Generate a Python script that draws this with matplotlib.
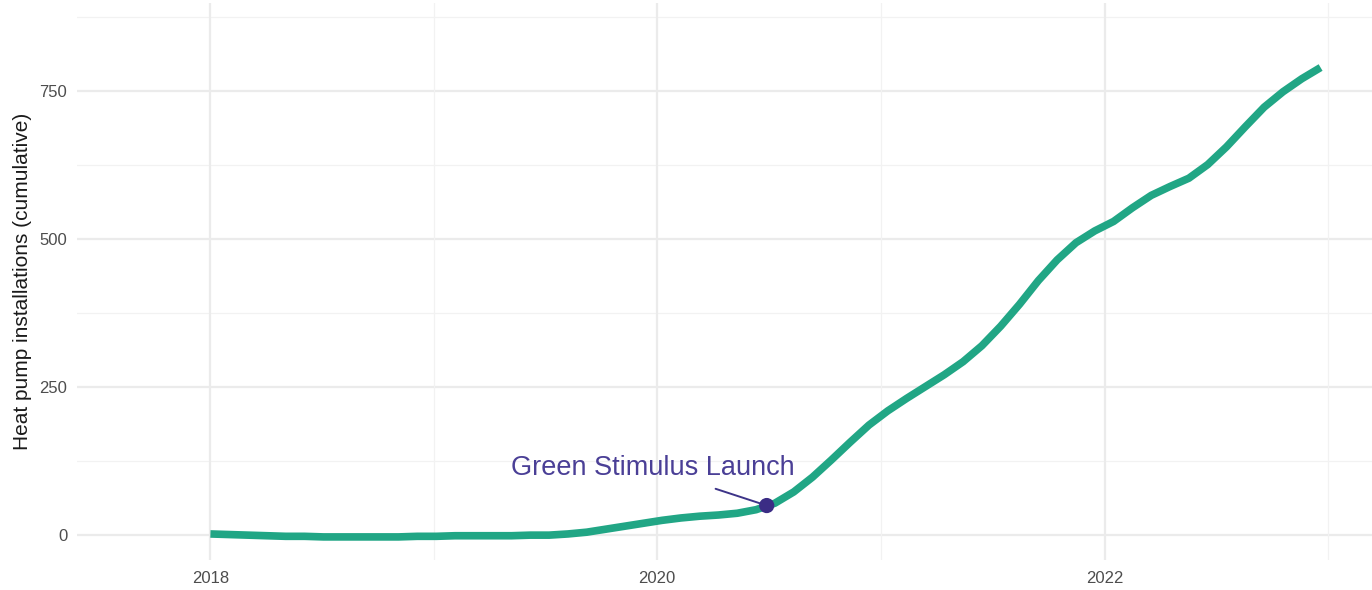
import matplotlib
matplotlib.use("Agg")
import matplotlib.pyplot as plt
import pandas as pd

plt.rcParams['font.family'] = ['Liberation Sans', 'DejaVu Sans']

# ---- data ----
dates = pd.date_range(start="2018-01-01", end="2022-12-20", periods=60)
installs = [2, 1, 0, -1, -2, -2, -3, -3, -3, -3,
            -3, -2, -2, -1, -1, -1, -1, 0, 0, 2,
            5, 10, 15, 20, 25, 29, 32, 34, 37, 43,
            54, 73, 98, 127, 157, 186, 210, 231, 251, 271,
            293, 320, 353, 390, 430, 465, 494, 514, 530, 553,
            574, 589, 603, 626, 656, 690, 723, 749, 771, 790]
event_date = pd.Timestamp("2020-06-28")
event_value = 50
event_label = "Green Stimulus Launch"
text_date = pd.Timestamp("2019-12-25")
text_value = 113
y_ticks = [0, 250, 500, 750]
y_minor = [125, 375, 625, 875]
x_ticks = [pd.Timestamp(f"{y}-01-01") for y in (2018, 2020, 2022)]
x_minor = [pd.Timestamp(f"{y}-01-01") for y in (2019, 2021, 2023)]
x_ticklabels = ["2018", "2020", "2022"]

fig = plt.figure(figsize=(13.72, 5.90), dpi=100)
ax = fig.add_axes([77/1372, 1 - 560/590, 1 - 77/1372, (560 - 3)/590])

ax.set_xlim(pd.Timestamp("2017-05-28"), pd.Timestamp("2023-03-14"))
ax.set_ylim(-42, 899)

# grid
for v in y_ticks:
    ax.axhline(v, color="#ebebeb", lw=1.6, zorder=0)
for v in y_minor:
    ax.axhline(v, color="#f2f2f2", lw=0.9, zorder=0)
for d in x_ticks:
    ax.axvline(d, color="#ebebeb", lw=1.6, zorder=0)
for d in x_minor:
    ax.axvline(d, color="#f2f2f2", lw=0.9, zorder=0)

ax.plot(dates, installs, color="#21a685", lw=5.5, solid_capstyle="butt",
        solid_joinstyle="round", zorder=2)

ax.annotate(event_label, xy=(event_date, event_value), xytext=(text_date, text_value),
            ha="center", va="center", fontsize=19.5, color="#4a3f96",
            arrowprops=dict(arrowstyle="-", color="#3d3488", lw=1.4,
                            shrinkA=11, shrinkB=3), zorder=3)
ax.scatter([event_date], [event_value], s=120, color="#3b2c85", zorder=4, edgecolors="none")

ax.set_yticks(y_ticks)
ax.set_yticklabels([str(v) for v in y_ticks])
ax.set_xticks(x_ticks)
ax.set_xticklabels(x_ticklabels)
ax.tick_params(axis="both", length=0, labelsize=12, labelcolor="#4d4d4d")
ax.tick_params(axis="y", pad=7)
ax.tick_params(axis="x", pad=8)
for s in ax.spines.values():
    s.set_visible(False)

ax.set_ylabel("Heat pump installations (cumulative)", fontsize=15, color="#1a1a1a", labelpad=5)

fig.savefig("out.png", dpi=100, facecolor="white")
